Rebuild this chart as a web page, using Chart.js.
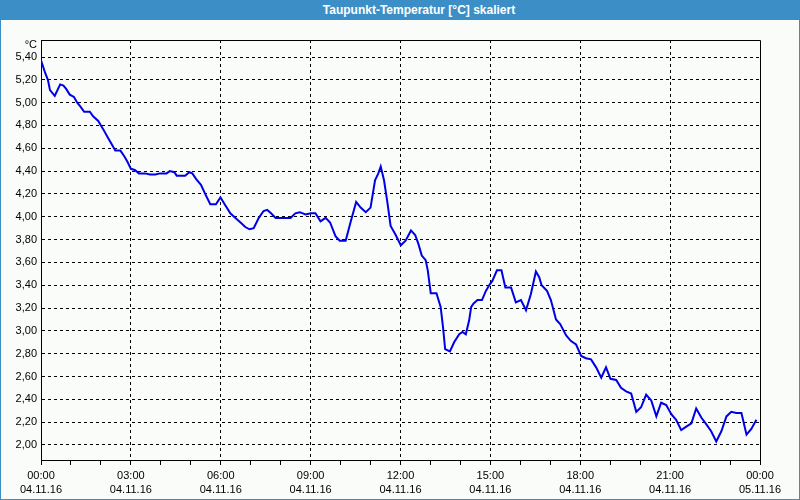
<!DOCTYPE html>
<html>
<head>
<meta charset="utf-8">
<script src="https://cdn.jsdelivr.net/npm/chart.js@4/dist/chart.umd.min.js"></script>
<style>
  body { margin: 0; background: #f9fcf9; }
  #wrap { position: relative; width: 800px; height: 500px; background: #f9fcf9; }
  #title {
    position: absolute; left: 0; top: 0; width: 800px; height: 20px;
    background: #3c8fc6; color: #fff; font: bold 12px "Liberation Sans", sans-serif;
    line-height: 20px; text-align: center; text-indent: 38px;
  }
  #frame {
    position: absolute; left: 0; top: 0; width: 800px; height: 500px;
    box-sizing: border-box; border: 1px solid #3c8fc6; pointer-events: none;
  }
  canvas { position: absolute; left: 0; top: 0; }
</style>
</head>
<body>
<div id="wrap">
  <canvas id="taupunkt" width="800" height="500"></canvas>
  <div id="title">Taupunkt-Temperatur [°C] skaliert</div>
  <div id="frame"></div>
</div>
<script>
// Zeit in Stunden ab 04.11.16 00:00
var hours = [
  0, 0.14, 0.23, 0.30, 0.46, 0.55, 0.64, 0.75, 0.84, 0.96,
  1.10, 1.21, 1.33, 1.44, 1.63, 1.74, 1.91, 2.07, 2.24, 2.37,
  2.48, 2.65, 2.78, 2.89, 3.00, 3.13, 3.27, 3.47, 3.64, 3.82,
  3.97, 4.19, 4.30, 4.45, 4.53, 4.81, 4.95, 5.05, 5.18, 5.34,
  5.48, 5.65, 5.84, 5.99, 6.13, 6.32, 6.49, 6.66, 6.82, 6.96,
  7.10, 7.27, 7.43, 7.55, 7.68, 7.83, 7.99, 8.16, 8.33, 8.49,
  8.64, 8.83, 9.00, 9.16, 9.33, 9.50, 9.65, 9.83, 9.97, 10.17,
  10.33, 10.52, 10.67, 10.84, 11.00, 11.15, 11.26, 11.34, 11.45, 11.56,
  11.67, 11.84, 12.01, 12.17, 12.35, 12.49, 12.60, 12.71, 12.84, 12.91,
  13.01, 13.20, 13.34, 13.42, 13.49, 13.65, 13.79, 13.96, 14.07, 14.18,
  14.29, 14.36, 14.44, 14.57, 14.72, 14.85, 14.96, 15.07, 15.22, 15.37,
  15.50, 15.69, 15.85, 16.02, 16.19, 16.35, 16.52, 16.63, 16.71, 16.89,
  17.02, 17.19, 17.33, 17.53, 17.69, 17.86, 18.03, 18.19, 18.36, 18.53,
  18.70, 18.86, 19.01, 19.20, 19.36, 19.53, 19.70, 19.87, 20.03, 20.20,
  20.37, 20.54, 20.70, 20.87, 21.04, 21.20, 21.37, 21.54, 21.71, 21.87,
  22.04, 22.21, 22.37, 22.54, 22.71, 22.88, 23.04, 23.21, 23.38, 23.55,
  23.71, 23.88
];

// Taupunkt in °C
var dewPoint = [
  5.37, 5.26, 5.20, 5.11, 5.06, 5.11, 5.16, 5.15, 5.12, 5.07,
  5.05, 5.00, 4.96, 4.92, 4.92, 4.88, 4.84, 4.77, 4.69, 4.63,
  4.58, 4.58, 4.53, 4.48, 4.42, 4.41, 4.38, 4.38, 4.37, 4.37,
  4.38, 4.38, 4.40, 4.39, 4.36, 4.36, 4.39, 4.38, 4.33, 4.28,
  4.20, 4.11, 4.11, 4.17, 4.11, 4.03, 3.99, 3.95, 3.91, 3.89,
  3.90, 3.99, 4.05, 4.06, 4.03, 3.99, 3.99, 3.99, 3.99, 4.03,
  4.04, 4.02, 4.03, 4.03, 3.96, 3.99, 3.95, 3.83, 3.79, 3.79,
  3.95, 4.13, 4.08, 4.04, 4.08, 4.32, 4.38, 4.44, 4.32, 4.13,
  3.92, 3.84, 3.75, 3.79, 3.88, 3.84, 3.76, 3.66, 3.62, 3.53,
  3.33, 3.33, 3.21, 3.03, 2.84, 2.82, 2.90, 2.97, 2.99, 2.97,
  3.09, 3.21, 3.24, 3.27, 3.27, 3.35, 3.40, 3.44, 3.53, 3.53,
  3.38, 3.38, 3.25, 3.27, 3.18, 3.32, 3.52, 3.47, 3.40, 3.35,
  3.27, 3.10, 3.06, 2.96, 2.91, 2.88, 2.78, 2.76, 2.75, 2.68,
  2.59, 2.68, 2.58, 2.57, 2.50, 2.47, 2.45, 2.29, 2.33, 2.44,
  2.39, 2.25, 2.37, 2.35, 2.27, 2.22, 2.13, 2.16, 2.19, 2.32,
  2.24, 2.18, 2.12, 2.03, 2.12, 2.25, 2.29, 2.28, 2.28, 2.09,
  2.14, 2.22
];

// Achsenbeschriftung
var yTicks = [2.0, 2.2, 2.4, 2.6, 2.8, 3.0, 3.2, 3.4, 3.6, 3.8, 4.0, 4.2, 4.4, 4.6, 4.8, 5.0, 5.2, 5.4];
var xTimeLabels = ["00:00", "03:00", "06:00", "09:00", "12:00", "15:00", "18:00", "21:00", "00:00"];
var xDateLabels = ["04.11.16", "04.11.16", "04.11.16", "04.11.16", "04.11.16", "04.11.16", "04.11.16", "04.11.16", "05.11.16"];

var points = hours.map(function (h, i) {
  return { x: h, y: dewPoint[i] };
});

var tickFont = { family: "Liberation Sans", size: 11, lineHeight: 1.3 };

// Rahmen oben/rechts und Einheit
var framePlugin = {
  id: "framePlugin",
  afterDraw: function (chart) {
    var a = chart.chartArea;
    var c = chart.ctx;
    c.save();
    c.strokeStyle = "#000";
    c.lineWidth = 1;
    c.beginPath();
    c.moveTo(a.left, a.top + 0.5);
    c.lineTo(Math.round(a.right) + 0.5, a.top + 0.5);
    c.lineTo(Math.round(a.right) + 0.5, a.bottom + 5);
    c.stroke();
    c.fillStyle = "#000";
    c.font = "11px Liberation Sans";
    c.textAlign = "right";
    c.textBaseline = "middle";
    c.fillText("°C", a.left - 4, a.top + 5);
    c.restore();
  },
};

var ctx = document.getElementById("taupunkt").getContext("2d");
var chart = new Chart(ctx, {
  type: "line",
  data: {
    datasets: [
      {
        data: points,
        borderColor: "#0000e6",
        borderWidth: 2,
        pointRadius: 0,
        tension: 0,
        fill: false,
      },
    ],
  },
  options: {
    responsive: false,
    animation: false,
    layout: { padding: { left: 0, top: 40, right: 40, bottom: 0 } },
    plugins: { legend: { display: false }, tooltip: { enabled: false } },
    scales: {
      x: {
        type: "linear",
        min: 0,
        max: 24,
        afterFit: function (s) { s.height = 40; },
        ticks: {
          stepSize: 1,
          autoSkip: false,
          maxRotation: 0,
          padding: 4,
          color: "#000",
          font: tickFont,
          callback: function (v) {
            if (v % 3 !== 0) return "";
            return [xTimeLabels[v / 3], xDateLabels[v / 3]];
          },
        },
        grid: {
          color: function (c) {
            var v = c.tick ? c.tick.value : 0;
            return v % 3 === 0 && v !== 0 && v !== 24 ? "#000" : "rgba(0,0,0,0)";
          },
          tickColor: "#000",
          tickLength: 5,
          lineWidth: 1,
        },
        border: { color: "#000", width: 1, dash: [3, 3] },
      },
      y: {
        min: 1.868,
        max: 5.549,
        afterFit: function (s) { s.width = 41; },
        afterBuildTicks: function (s) {
          s.ticks = yTicks.map(function (v) { return { value: v }; });
        },
        ticks: {
          padding: 4,
          color: "#000",
          font: tickFont,
          callback: function (v) { return v.toFixed(2).replace(".", ","); },
        },
        grid: { color: "#000", drawTicks: false, lineWidth: 1 },
        border: { color: "#000", width: 1, dash: [3, 3] },
      },
    },
  },
  plugins: [framePlugin],
});
</script>
</body>
</html>
